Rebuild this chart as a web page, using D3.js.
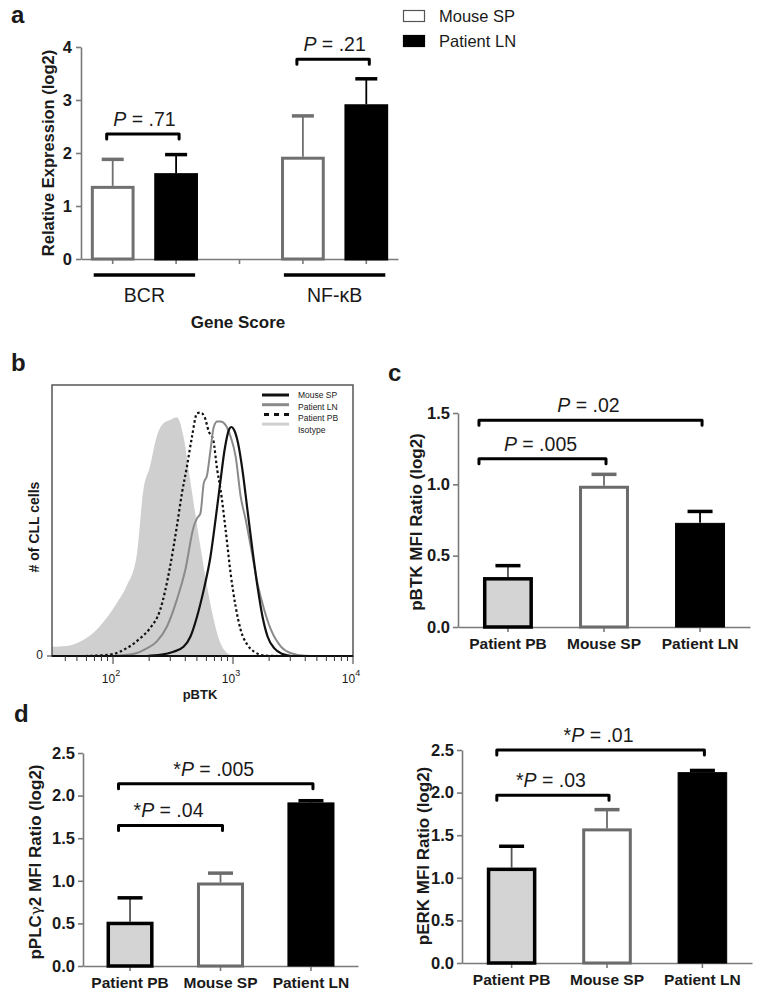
<!DOCTYPE html>
<html><head><meta charset="utf-8">
<script src="https://cdn.jsdelivr.net/npm/d3@7"></script>
<style>
body{margin:0;background:#fff;}
svg text{font-family:"Liberation Sans",Arial,Helvetica,sans-serif;fill:#1a1a1a;}
</style></head><body>
<svg id="chart" width="760" height="996"></svg>
<script>
// ---------- Panel a: gene scores ----------
const geneGroups = ["BCR", "NF-κB"];
const geneSeries = ["Mouse SP", "Patient LN"];
const geneMouseSP = [1.38, 1.93];
const geneMouseSPErr = [1.88, 2.70];
const genePatientLN = [1.62, 2.92];
const genePatientLNErr = [1.97, 3.40];
const geneTicks = [0, 1, 2, 3, 4];
const geneP = [".71", ".21"];
const geneBracketLevel = [2.36, 3.77];

// ---------- Panel b: pBTK histograms (fluorescence intensity, relative count) ----------
const isotypeFI = [31, 41, 53, 68, 88, 107, 129, 157, 179, 203, 231, 263, 299, 340, 387, 427, 470, 535, 608, 692, 787, 955, 1100];
const isotypeCount = [0.034, 0.037, 0.053, 0.084, 0.139, 0.194, 0.256, 0.367, 0.613, 0.699, 0.809, 0.859, 0.871, 0.881, 0.809, 0.686, 0.563, 0.403, 0.256, 0.133, 0.047, 0.004, 0];
const patientPBFI = [33, 56, 77, 100, 129, 168, 203, 247, 299, 340, 375, 413, 455, 501, 535, 578, 629, 684, 739, 788, 868, 955, 1052, 1159, 1319, 1500, 1822, 2359];
const patientPBCount = [0, 0, 0.002, 0.007, 0.028, 0.065, 0.102, 0.170, 0.330, 0.477, 0.600, 0.699, 0.809, 0.895, 0.898, 0.883, 0.828, 0.797, 0.686, 0.613, 0.465, 0.305, 0.182, 0.096, 0.041, 0.016, 0.002, 0];
const patientLNFI = [100, 147, 191, 231, 281, 340, 400, 470, 501, 535, 570, 608, 649, 692, 739, 788, 868, 955, 1052, 1159, 1277, 1407, 1600, 1822, 2075, 2517, 3055, 3955, 5117];
const patientLNCount = [0, 0.007, 0.028, 0.053, 0.108, 0.207, 0.317, 0.477, 0.508, 0.526, 0.637, 0.668, 0.760, 0.846, 0.865, 0.865, 0.852, 0.809, 0.736, 0.588, 0.502, 0.403, 0.268, 0.170, 0.096, 0.034, 0.010, 0.001, 0];
const mouseSPFI = [191, 247, 319, 387, 441, 501, 570, 649, 715, 788, 851, 925, 968, 1019, 1101, 1197, 1319, 1453, 1600, 1762, 1944, 2213, 2600, 3055];
const mouseSPCount = [0, 0.004, 0.016, 0.034, 0.071, 0.145, 0.244, 0.367, 0.503, 0.650, 0.761, 0.835, 0.845, 0.835, 0.786, 0.688, 0.539, 0.391, 0.256, 0.145, 0.071, 0.028, 0.007, 0];
const histLegend = ["Mouse SP", "Patient LN", "Patient PB", "Isotype"];
const histMajorTicks = [100, 1000, 10000];

// ---------- Panels c, d ----------
const cellGroups = ["Patient PB", "Mouse SP", "Patient LN"];
const pBTKMean = [0.35, 0.99, 0.73];
const pBTKErr = [0.43, 1.07, 0.81];
const pBTKTicks = [0, 0.5, 1.0, 1.5];
const pBTKPTo = [1, 2];
const pBTKPLabels = [".005", ".02"];
const pBTKPLevels = [1.18, 1.45];

const pPLCMean = [0.52, 0.98, 1.92];
const pPLCErr = [0.80, 1.09, 1.94];
const pPLCTicks = [0, 0.5, 1.0, 1.5, 2.0, 2.5];
const pPLCPTo = [1, 2];
const pPLCPLabels = [".04", ".005"];
const pPLCPLevels = [1.65, 2.14];

const pERKMean = [1.12, 1.58, 2.24];
const pERKErr = [1.37, 1.80, 2.26];
const pERKTicks = [0, 0.5, 1.0, 1.5, 2.0, 2.5];
const pERKPTo = [1, 2];
const pERKPLabels = [".03", ".01"];
const pERKPLevels = [1.97, 2.5];

// ---------- drawing ----------
const svg = d3.select("#chart");
svg.append("rect").attr("width", 760).attr("height", 996).attr("fill", "#fff");
const FONT = '"Liberation Sans",Arial,Helvetica,sans-serif';
const AXIS = "#7a7a7a";

function panelLetter(t, x, y) {
  svg.append("text").attr("x", x).attr("y", y).style("font-size", "24px").style("font-weight", "bold").text(t);
}
function pText(g, x, y, star, val) {
  const t = g.append("text").attr("x", x).attr("y", y).attr("text-anchor", "middle").style("font-size", "19.5px");
  if (star) t.append("tspan").text("*");
  t.append("tspan").style("font-style", "italic").text("P");
  t.append("tspan").text(" = " + val);
}
function bracket(g, xa, xb, y) {
  g.append("path").attr("d", `M${xa},${y + 5}V${y}H${xb}V${y + 5}`)
    .attr("fill", "none").attr("stroke", "#000").attr("stroke-width", 3)
    .attr("stroke-linejoin", "round").attr("stroke-linecap", "round");
}
function styleAxis(g, size, bold) {
  g.select(".domain").attr("stroke", AXIS).attr("stroke-width", 1.6);
  g.selectAll(".tick line").attr("stroke", AXIS).attr("stroke-width", 1.6);
  g.selectAll(".tick text").attr("fill", "#1a1a1a").style("font-family", FONT)
    .style("font-size", size + "px").style("font-weight", bold ? "bold" : "normal");
}
function errorBar(g, cx, yv, ye, capW, stemColor, capColor) {
  g.append("line").attr("x1", cx).attr("x2", cx).attr("y1", yv).attr("y2", ye).attr("stroke", stemColor).attr("stroke-width", 1.8);
  g.append("line").attr("x1", cx - capW / 2).attr("x2", cx + capW / 2).attr("y1", ye).attr("y2", ye).attr("stroke", capColor).attr("stroke-width", 3.5);
}

// ===== Panel a =====
panelLetter("a", 11, 23);
{
  const g = svg.append("g");
  const y = d3.scaleLinear().domain([0, 4]).range([259, 47]);
  const slots = [];
  geneGroups.forEach((grp, i) => {
    geneSeries.forEach(s => slots.push(grp + "|" + s));
    if (i < geneGroups.length - 1) slots.push("gap" + i);
  });
  const x = d3.scaleBand().domain(slots).range([81, 398]);
  const bw = x.bandwidth() * 0.69;
  const ya = g.append("g").attr("transform", "translate(81,0)")
    .call(d3.axisLeft(y).tickValues(geneTicks).tickSize(5).tickPadding(4).tickSizeOuter(0).tickFormat(d3.format("d")));
  styleAxis(ya, 16.5, true);
  const xa = g.append("g").attr("transform", "translate(0,259)")
    .call(d3.axisBottom(x).tickSize(5).tickSizeOuter(0).tickFormat(""));
  styleAxis(xa, 12, false);

  const fills = ["#fff", "#000"], strokes = ["#707070", "#000"];
  geneGroups.forEach((grp, i) => {
    const vals = [geneMouseSP[i], genePatientLN[i]];
    const errs = [geneMouseSPErr[i], genePatientLNErr[i]];
    geneSeries.forEach((s, j) => {
      const cx = x(grp + "|" + s) + x.bandwidth() / 2;
      errorBar(g, cx, y(vals[j]), y(errs[j]), 22, strokes[j], strokes[j]);
      g.append("rect").attr("x", cx - bw / 2 + 1.5).attr("width", bw - 3)
        .attr("y", y(vals[j]) + 1.5).attr("height", y(0) - y(vals[j]) - 1.5)
        .attr("fill", fills[j]).attr("stroke", strokes[j]).attr("stroke-width", 3);
    });
    const c0 = x(grp + "|" + geneSeries[0]) + x.bandwidth() / 2;
    const c1 = x(grp + "|" + geneSeries[1]) + x.bandwidth() / 2;
    g.append("line").attr("x1", c0 - 19).attr("x2", c1 + 19).attr("y1", 275).attr("y2", 275)
      .attr("stroke", "#000").attr("stroke-width", 3.5);
    g.append("text").attr("x", (c0 + c1) / 2).attr("y", 302).attr("text-anchor", "middle")
      .style("font-size", "19.5px").text(grp);
    const by = y(geneBracketLevel[i]);
    bracket(g, c0 - 6, c1 + 3, by);
    pText(g, (c0 + c1) / 2, by - 8, false, geneP[i]);
  });
  g.append("text").attr("x", 238).attr("y", 328).attr("text-anchor", "middle")
    .style("font-size", "17px").style("font-weight", "bold").text("Gene Score");
  g.append("text").attr("transform", "translate(54,153) rotate(-90)").attr("text-anchor", "middle")
    .style("font-size", "16.5px").style("font-weight", "bold").text("Relative Expression (log2)");
  geneSeries.forEach((s, j) => {
    g.append("rect").attr("x", 403.5).attr("y", 10.5 + j * 25).attr("width", 21).attr("height", 11)
      .attr("fill", fills[j]).attr("stroke", j === 0 ? "#555" : "#000").attr("stroke-width", 1.2);
    g.append("text").attr("x", 439).attr("y", 22 + j * 25).style("font-size", "16.5px").text(s);
  });
}

// ===== Panel b =====
panelLetter("b", 11, 371);
{
  const g = svg.append("g");
  const x = d3.scaleLog().domain([31, 10000]).range([52, 353]);
  const y = d3.scaleLinear().domain([0, 1]).range([656, 385]);
  const area = d3.area().x(d => x(d[0])).y0(y(0)).y1(d => y(d[1])).curve(d3.curveMonotoneX);
  const line = d3.line().x(d => x(d[0])).y(d => y(d[1])).curve(d3.curveMonotoneX);
  const zip = (a, b) => a.map((v, i) => [v, b[i]]);
  g.append("path").attr("d", area(zip(isotypeFI, isotypeCount))).attr("fill", "#cfcfcf");
  g.append("path").attr("d", line(zip(patientPBFI, patientPBCount))).attr("fill", "none")
    .attr("stroke", "#111").attr("stroke-width", 2.2).attr("stroke-dasharray", "2.5,2.5");
  g.append("path").attr("d", line(zip(patientLNFI, patientLNCount))).attr("fill", "none")
    .attr("stroke", "#8a8a8a").attr("stroke-width", 2);
  g.append("path").attr("d", line(zip(mouseSPFI, mouseSPCount))).attr("fill", "none")
    .attr("stroke", "#111").attr("stroke-width", 2.2);
  g.append("rect").attr("x", 52).attr("y", 385).attr("width", 301).attr("height", 271)
    .attr("fill", "none").attr("stroke", "#555").attr("stroke-width", 1.5);
  g.append("line").attr("x1", 52).attr("x2", 353).attr("y1", 656).attr("y2", 656).attr("stroke", "#111").attr("stroke-width", 2.2);
  const ticks = x.ticks().filter(t => t >= 31 && t <= 10000);
  ticks.forEach(t => {
    const major = histMajorTicks.includes(t);
    g.append("line").attr("x1", x(t)).attr("x2", x(t)).attr("y1", 656).attr("y2", 656 + (major ? 8 : 5))
      .attr("stroke", "#333").attr("stroke-width", 1);
  });
  histMajorTicks.forEach(t => {
    const tx = g.append("text").attr("x", x(t) - 2).attr("y", 683).attr("text-anchor", "middle").style("font-size", "12px").attr("fill", "#333");
    tx.append("tspan").text("10");
    tx.append("tspan").attr("dy", -7).style("font-size", "9px").text(Math.round(Math.log10(t)));
  });
  g.append("line").attr("x1", 47).attr("x2", 52).attr("y1", 656).attr("y2", 656).attr("stroke", "#333");
  g.append("text").attr("x", 43).attr("y", 659).attr("text-anchor", "end").style("font-size", "12px").text("0");
  g.append("text").attr("x", 200).attr("y", 699).attr("text-anchor", "middle")
    .style("font-size", "13px").style("font-weight", "bold").text("pBTK");
  g.append("text").attr("transform", "translate(39,527) rotate(-90)").attr("text-anchor", "middle")
    .style("font-size", "14px").style("font-weight", "bold").text("# of CLL cells");
  const lc = ["#111", "#8a8a8a", "#111", "#cfcfcf"];
  const ld = [null, null, "5,5", null];
  histLegend.forEach((s, i) => {
    const ly = 395 + i * 9.7;
    const l = g.append("line").attr("x1", 262).attr("x2", 289).attr("y1", ly).attr("y2", ly)
      .attr("stroke", lc[i]).attr("stroke-width", 3);
    if (ld[i]) l.attr("stroke-dasharray", ld[i]).attr("stroke-dashoffset", -2);
    g.append("text").attr("x", 298).attr("y", 398 + i * 11.5).style("font-size", "8.5px").attr("fill", "#333").text(s);
  });
}

// ===== Panels c, d =====
function barPanel(o) {
  const g = svg.append("g");
  const y = d3.scaleLinear().domain([0, o.yMax]).range([o.yBottom, o.yTop]);
  const x = d3.scaleBand().domain(cellGroups).range([o.x0, o.x1]).paddingInner(0.48).paddingOuter(0.26);
  const ya = g.append("g").attr("transform", `translate(${o.x0},0)`)
    .call(d3.axisLeft(y).tickValues(o.ticks).tickSize(5).tickPadding(3).tickSizeOuter(0).tickFormat(d3.format(".1f")));
  styleAxis(ya, 16.5, true);
  const xa = g.append("g").attr("transform", `translate(0,${o.yBottom})`)
    .call(d3.axisBottom(x).tickSize(5).tickPadding(6).tickSizeOuter(0));
  styleAxis(xa, 15.5, true);
  const fills = ["#d4d4d4", "#fff", "#000"];
  const strokes = ["#000", "#6b6b6b", "#000"];
  const sw = [3.5, 3, 1];
  const stem = ["#555", "#6b6b6b", "#000"];
  const bw = x.bandwidth();
  cellGroups.forEach((grp, i) => {
    const cx = x(grp) + bw / 2;
    errorBar(g, cx, y(o.means[i]), y(o.errs[i]), 25, stem[i], strokes[i]);
    g.append("rect").attr("x", x(grp) + sw[i] / 2).attr("width", bw - sw[i])
      .attr("y", y(o.means[i]) + sw[i] / 2).attr("height", y(0) - y(o.means[i]) - sw[i] / 2)
      .attr("fill", fills[i]).attr("stroke", strokes[i]).attr("stroke-width", sw[i]);
  });
  o.pTo.forEach((to, k) => {
    const xa0 = x(cellGroups[0]) + o.bracketLeft;
    const xb0 = x(cellGroups[to]) + bw / 2 + 2;
    const by = y(o.pLevels[k]);
    bracket(g, xa0, xb0, by);
    pText(g, (xa0 + xb0) / 2 - 2, by - 8, o.star, o.pLabels[k]);
  });
  const t = g.append("text").attr("transform", `translate(${o.labelX},${o.labelY}) rotate(-90)`)
    .attr("text-anchor", "middle").style("font-size", "17px").style("font-weight", "bold");
  o.label.forEach(p => {
    const ts = t.append("tspan").text(p.t);
    if (p.normal) ts.style("font-weight", "normal").style("font-family", '"DejaVu Serif",serif').style("font-size", "15px");
  });
}

panelLetter("c", 388, 381);
barPanel({x0: 458, x1: 750, yTop: 413, yBottom: 627, yMax: 1.5, ticks: pBTKTicks,
  means: pBTKMean, errs: pBTKErr, pTo: pBTKPTo, pLabels: pBTKPLabels, pLevels: pBTKPLevels,
  star: false, bracketLeft: -4, labelX: 422, labelY: 522, label: [{t: "pBTK MFI Ratio (log2)"}]});

panelLetter("d", 14, 722);
barPanel({x0: 83, x1: 358, yTop: 753, yBottom: 966, yMax: 2.5, ticks: pPLCTicks,
  means: pPLCMean, errs: pPLCErr, pTo: pPLCPTo, pLabels: pPLCPLabels, pLevels: pPLCPLevels,
  star: true, bracketLeft: 12, labelX: 41, labelY: 862,
  label: [{t: "pPLC"}, {t: "γ", normal: true}, {t: "2 MFI Ratio (log2)"}]});

barPanel({x0: 462, x1: 752, yTop: 750, yBottom: 963, yMax: 2.5, ticks: pERKTicks,
  means: pERKMean, errs: pERKErr, pTo: pERKPTo, pLabels: pERKPLabels, pLevels: pERKPLevels,
  star: true, bracketLeft: 10, labelX: 429, labelY: 856, label: [{t: "pERK MFI Ratio (log2)"}]});
</script>
</body></html>
